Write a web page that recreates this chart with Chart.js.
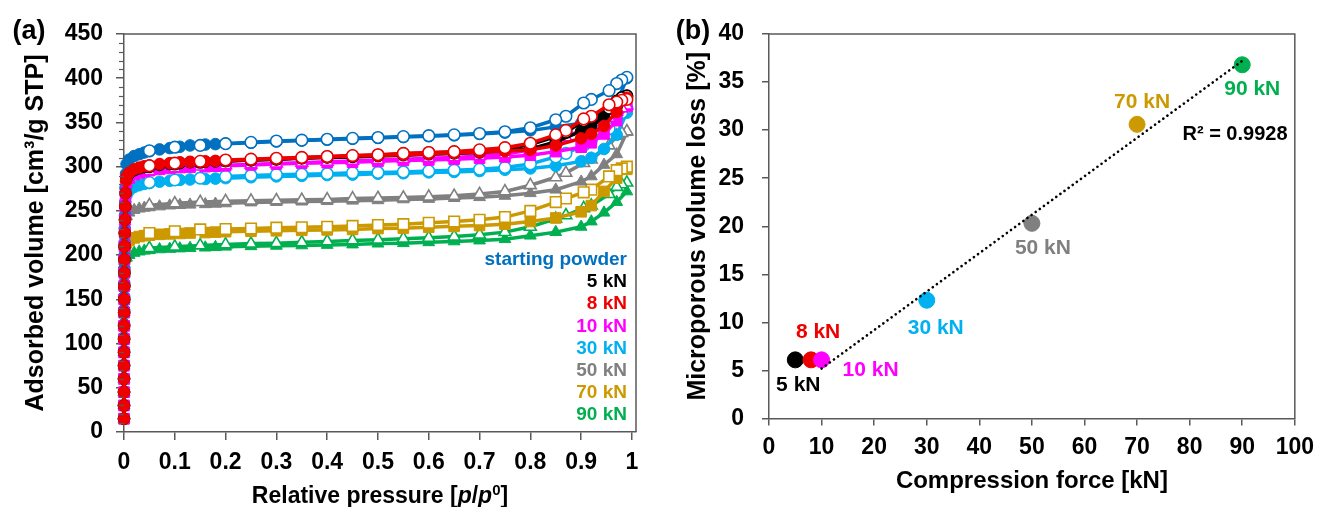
<!DOCTYPE html>
<html>
<head>
<meta charset="utf-8">
<title>Isotherms and microporous volume loss</title>
<script src="https://cdn.jsdelivr.net/npm/chart.js@4.4.1/dist/chart.umd.min.js"></script>
<style>
  html, body { margin: 0; padding: 0; background: #fff; }
  #wrap { position: relative; width: 1322px; height: 507px; overflow: hidden; }
  #boxA { position: absolute; left: 0; top: 0; width: 660px; height: 507px; }
  #boxB { position: absolute; left: 660px; top: 0; width: 662px; height: 507px; }
</style>
</head>
<body>
<div id="wrap">
  <div id="boxA"><canvas id="isoChart" width="660" height="507"></canvas></div>
  <div id="boxB"><canvas id="lossChart" width="662" height="507"></canvas></div>
</div>
<script>
// (a) N2 isotherms: adsorption (filled) and desorption (open)

const SAMPLES = ['starting powder', '5 kN', '8 kN', '10 kN', '30 kN', '50 kN', '70 kN', '90 kN'];

// relative pressures p/p0
const LOW_P = [0.00001, 0.00002, 0.00003, 0.00005, 0.00007, 0.0001, 0.00015, 0.0002, 0.0003, 0.0004,
               0.0005, 0.0007, 0.0009, 0.0012, 0.0015, 0.002, 0.0025, 0.003, 0.004];
const ADS_P = [0.005, 0.01, 0.02, 0.03, 0.04, 0.05, 0.07, 0.09, 0.11, 0.13, 0.16, 0.18, 0.2, 0.25, 0.3,
               0.35, 0.4, 0.45, 0.5, 0.55, 0.6, 0.65, 0.7, 0.75, 0.8, 0.85, 0.9, 0.92, 0.945, 0.97, 0.99];
const DES_P = [0.99, 0.98, 0.97, 0.955, 0.92, 0.905, 0.87, 0.85, 0.8, 0.75, 0.7, 0.65, 0.6, 0.55, 0.5,
               0.45, 0.4, 0.35, 0.3, 0.25, 0.2, 0.15, 0.1, 0.05];

// adsorbed volume [cm3/g STP]
const LOW_SP = [15, 30, 46, 61, 76, 92, 107, 122, 138, 153, 168, 184, 199, 214, 230, 245, 260, 276, 292];
const ADS_SP = [303, 308, 312, 314, 316, 317.5, 319.5, 321, 322.5, 324, 325, 325.5, 326, 327, 328.5, 329.5,
                330.5, 331.5, 332.5, 333.5, 334.5, 335.5, 337, 338.5, 341, 345, 349, 352, 358, 372, 400];
const DES_SP = [401, 398, 394, 386, 376, 372, 357, 353, 344, 339.5, 337.5, 336, 335, 334, 333, 332,
                331, 330, 329, 327.5, 326, 324, 322, 318];

const LOW_5 = [15, 30, 45, 60, 75, 90, 105, 120, 135, 150, 165, 180, 195, 210, 225, 240, 255, 270];
const ADS_5 = [287, 292, 296, 298, 299.5, 300.5, 302, 303, 304, 305, 305.5, 306, 306.5, 307.5, 308.5, 309.5,
               310.5, 311, 312, 313, 314, 315, 316, 318, 320, 328, 340, 346, 356, 368, 380];
const DES_5 = [380, 378, 374, 366, 356, 352, 339, 334, 325, 320, 318, 316.5, 315.5, 314.5, 313, 312,
               311, 310, 308.5, 307.5, 306.5, 305, 303, 300];

const LOW_8 = [15, 30, 45, 60, 75, 90, 105, 120, 135, 150, 165, 180, 195, 210, 225, 240, 255, 270, 284];
const ADS_8 = [289, 293, 297, 299, 300.5, 301.5, 303, 304, 305, 305.5, 306, 306.5, 307, 308, 309, 310,
               311, 312, 312.5, 313.5, 314.5, 315.5, 316.5, 317.5, 319, 324, 332, 337, 346, 362, 378];
const DES_8 = [376, 375, 373, 370, 357, 354, 341, 336, 326.5, 321.5, 319, 317, 316, 315, 313.5, 312.5,
               311.5, 310.5, 309.5, 308.5, 307.5, 306, 304, 301];

const LOW_10 = [15, 30, 45, 60, 75, 90, 105, 120, 135, 150, 165, 180, 195, 210, 225, 240, 255, 268];
const ADS_10 = [282, 287, 291, 293, 294.5, 295.5, 297, 298, 299, 299.5, 300, 300.5, 301, 302, 303, 304,
                304.5, 305, 306, 307, 307.5, 308.5, 309.5, 311, 313, 317, 322, 327, 337, 352, 368];
const DES_10 = [369, 366, 362, 355, 347, 343, 333, 328, 319, 314, 312, 310.5, 309.5, 308.5, 307.5, 306.5,
                305.5, 304.5, 303.5, 302.5, 301.5, 300, 298, 295];

const LOW_30 = [15, 30, 45, 60, 75, 90, 105, 120, 135, 150, 165, 180, 195, 210, 225, 240, 255];
const ADS_30 = [268, 273, 277, 279, 280.5, 281.5, 283, 284, 285, 285.5, 286, 286.5, 287, 288, 289, 289.5,
                290.5, 291, 292, 292.5, 293.5, 294, 295, 296.5, 298, 301, 306, 310, 320, 336, 361];
const DES_30 = [366, 361, 354, 343, 330, 324, 315, 311, 303, 299, 297, 296, 295, 294, 293.5, 293,
                292, 291.5, 291, 290, 289, 287, 285, 282];

const LOW_50 = [15, 30, 45, 60, 75, 90, 105, 120, 135, 150, 165, 180, 195, 210, 225, 238];
const ADS_50 = [244, 248, 251, 252.5, 253.5, 254, 255, 256, 256.5, 257, 257.5, 258, 258.5, 259.5, 260, 260.5,
                261, 261.5, 262, 263, 263.5, 264.5, 265.5, 267, 270, 274, 283, 289, 302, 314, 339];
const DES_50 = [340, 338, 335, 324, 308, 304, 293, 288, 279, 272, 269, 267, 266, 265, 264.5, 264,
                263, 262.5, 262, 261.5, 261, 260, 258.5, 256.5];

const LOW_70 = [15, 30, 45, 60, 75, 90, 105, 120, 135, 150, 165, 180, 195, 208];
const ADS_70 = [214, 217, 219.5, 221, 222, 222.5, 223.5, 224, 224.5, 225, 225.5, 226, 226.5, 227, 227.5, 228,
                228.5, 229, 230, 230.5, 231.5, 232.5, 233.5, 235, 238, 242, 249, 256, 272, 287, 297];
const DES_70 = [300, 298, 296, 289, 274, 271, 264, 260, 250, 243, 240, 238, 236.5, 235, 234, 233,
                232, 231.5, 231, 230, 229.5, 229, 227, 225];

const LOW_90 = [15, 30, 45, 60, 75, 90, 105, 120, 135, 150, 165, 180, 190];
const ADS_90 = [197, 200, 202.5, 204, 205, 205.5, 206.5, 207, 207.5, 208, 208.5, 209, 209.5, 210, 210.5, 211,
                211.5, 212, 213, 213.5, 214.5, 215.5, 216.5, 218, 222, 226, 232, 238, 248, 260, 272];
const DES_90 = [282, 280, 277, 269, 256, 253, 245, 241, 232, 226, 223, 221, 219.5, 218.5, 217.5, 216.5,
                215.5, 214.5, 213.5, 213, 212, 211, 209.5, 208];

const X_TICKS_A = [0, 0.1, 0.2, 0.3, 0.4, 0.5, 0.6, 0.7, 0.8, 0.9, 1];

// (b) microporous volume loss vs compression force
const FORCE = [5, 8, 10, 30, 50, 70, 90];
const LOSS = [6.1, 6.1, 6.1, 12.3, 20.3, 30.6, 36.8];
const FORCE_LABELS = ['5 kN', '8 kN', '10 kN', '30 kN', '50 kN', '70 kN', '90 kN'];
const TREND_X = [10, 90];
const TREND_Y = [5.2, 37.2];
const R2_TEXT = 'R\u00B2 = 0.9928';

// --- styling ---
const FONT = "'Liberation Sans', Arial, Helvetica, sans-serif";
const AXIS_GRAY = '#595959';
const COLORS = ['#0070C0', '#000000', '#EE0000', '#FF00FF', '#00B0F0', '#808080', '#CC9900', '#00B050'];
const MARKERS = [
  ['circle', 'circle'], ['circle', 'circle'], ['circle', 'circle'], ['rect', 'triangle'],
  ['circle', 'circle'], ['triangle', 'triangle'], ['rect', 'rect'], ['triangle', 'triangle']
];
const MARKER_R = { circle: 5.8, rect: 7.5, triangle: 6.8 };
// drawing order: red on top, then black, magenta, blue, cyan, gray, gold, green
const LAYER = [3, 1, 0, 2, 4, 5, 6, 7];

function pts(xs, ys) {
  return ys.map((y, i) => ({ x: xs[i], y }));
}

function isoDatasets() {
  const low = [LOW_SP, LOW_5, LOW_8, LOW_10, LOW_30, LOW_50, LOW_70, LOW_90];
  const ads = [ADS_SP, ADS_5, ADS_8, ADS_10, ADS_30, ADS_50, ADS_70, ADS_90];
  const des = [DES_SP, DES_5, DES_8, DES_10, DES_30, DES_50, DES_70, DES_90];
  const sets = [];
  SAMPLES.forEach((name, i) => {
    const c = COLORS[i];
    sets.push({
      label: name + ' (adsorption)',
      data: pts(LOW_P, low[i]).concat(pts(ADS_P, ads[i])),
      showLine: true, borderColor: c, borderWidth: 3.5, clip: 10,
      pointStyle: MARKERS[i][0], pointRadius: MARKER_R[MARKERS[i][0]],
      pointBackgroundColor: c, pointBorderColor: c, pointBorderWidth: 1,
      order: LAYER[i] * 2 + 1
    });
    sets.push({
      label: name + ' (desorption)',
      data: pts(DES_P, des[i]),
      showLine: true, borderColor: c, borderWidth: 3.5, clip: 10,
      pointStyle: MARKERS[i][1], pointRadius: MARKER_R[MARKERS[i][1]],
      pointBackgroundColor: '#ffffff', pointBorderColor: c, pointBorderWidth: 1.6,
      order: LAYER[i] * 2
    });
  });
  return sets;
}

function drawFrame(chart) {
  const { ctx, chartArea: a } = chart;
  ctx.save();
  ctx.strokeStyle = AXIS_GRAY;
  ctx.lineWidth = 1.5;
  ctx.beginPath();
  ctx.moveTo(a.left, a.top);
  ctx.lineTo(a.right, a.top);
  ctx.lineTo(a.right, a.bottom);
  ctx.stroke();
  ctx.restore();
}

function label(ctx, str, x, y, size, color, align) {
  ctx.save();
  ctx.font = 'bold ' + size + 'px ' + FONT;
  ctx.fillStyle = color;
  ctx.textAlign = align || 'center';
  ctx.textBaseline = 'middle';
  ctx.fillText(str, x, y);
  ctx.restore();
}

const isoDecor = {
  id: 'isoDecor',
  afterDraw(chart) {
    const { ctx, chartArea: a, scales } = chart;
    drawFrame(chart);

    // minor ticks on the y axis every 10
    ctx.save();
    ctx.strokeStyle = AXIS_GRAY;
    ctx.lineWidth = 1.2;
    for (let v = 10; v < scales.y.max; v += 10) {
      if (v % 50 === 0) continue;
      const py = Math.round(scales.y.getPixelForValue(v)) + 0.5;
      ctx.beginPath();
      ctx.moveTo(a.left - 5, py);
      ctx.lineTo(a.left, py);
      ctx.stroke();
    }
    ctx.restore();

    // sample names, right aligned inside the plot
    SAMPLES.forEach((name, i) => {
      label(ctx, name, a.right - 9, 260 + i * 22.1, 19, COLORS[i], 'right');
    });

    // x title with italic p and superscript 0
    const parts = [
      { t: 'Relative pressure [', f: 'bold 23px ' + FONT, dy: 0 },
      { t: 'p', f: 'italic bold 23px ' + FONT, dy: 0 },
      { t: '/', f: 'bold 23px ' + FONT, dy: 0 },
      { t: 'p', f: 'italic bold 23px ' + FONT, dy: 0 },
      { t: '0', f: 'bold 15px ' + FONT, dy: -8 },
      { t: ']', f: 'bold 23px ' + FONT, dy: 0 }
    ];
    ctx.save();
    ctx.textBaseline = 'alphabetic';
    ctx.fillStyle = '#000';
    let total = 0;
    parts.forEach(p => { ctx.font = p.f; p.w = ctx.measureText(p.t).width; total += p.w; });
    let x = (a.left + a.right) / 2 - total / 2;
    const base = 503;
    parts.forEach(p => { ctx.font = p.f; ctx.fillText(p.t, x, base + p.dy); x += p.w; });
    ctx.restore();

    label(ctx, '(a)', 29, 32, 27, '#000');
  }
};

const lossDecor = {
  id: 'lossDecor',
  afterDraw(chart) {
    const { ctx, scales } = chart;
    drawFrame(chart);
    const offsets = [[3, 25], [7, -28], [49, 10], [9, 28], [11, 25], [5, -22], [10, 24]];
    FORCE_LABELS.forEach((t, i) => {
      const px = scales.x.getPixelForValue(FORCE[i]) + offsets[i][0];
      const py = scales.y.getPixelForValue(LOSS[i]) + offsets[i][1];
      label(ctx, t, px, py, 21, COLORS[i + 1]);
    });
    label(ctx, R2_TEXT, 575, 134, 20, '#000');
    label(ctx, '(b)', 33, 32, 27, '#000');
  }
};

const tickFont = { family: FONT, size: 23, weight: 'bold' };

new Chart(document.getElementById('isoChart'), {
  type: 'scatter',
  data: { datasets: isoDatasets() },
  options: {
    responsive: false,
    animation: false,
    layout: { padding: { left: 0, right: 24, top: 34, bottom: 0 } },
    plugins: { legend: { display: false }, tooltip: { enabled: false } },
    scales: {
      x: {
        type: 'linear', min: 0, max: 1.008,
        afterBuildTicks: s => { s.ticks = X_TICKS_A.map(v => ({ value: v })); },
        afterFit: s => { s.height = 75; },
        ticks: { color: '#000', font: tickFont, padding: 9, maxRotation: 0, autoSkip: false, callback: v => String(v) },
        grid: { drawOnChartArea: false, tickLength: 8, color: AXIS_GRAY, lineWidth: 1.5 },
        border: { color: AXIS_GRAY, width: 1.5 }
      },
      y: {
        type: 'linear', min: 0, max: 450,
        afterFit: s => { s.width = 124; },
        ticks: { stepSize: 50, color: '#000', font: tickFont, padding: 13 },
        grid: { drawOnChartArea: false, tickLength: 8, color: AXIS_GRAY, lineWidth: 1.5 },
        border: { color: AXIS_GRAY, width: 1.5 },
        title: {
          display: true, text: 'Adsorbed volume [cm\u00B3/g STP]', color: '#000',
          font: { family: FONT, size: 25, weight: 'bold' }, padding: { top: 21, bottom: 0 }
        }
      }
    }
  },
  plugins: [isoDecor]
});

new Chart(document.getElementById('lossChart'), {
  type: 'scatter',
  data: {
    datasets: [
      {
        label: 'Linear fit',
        data: pts(TREND_X, TREND_Y),
        showLine: true, borderColor: '#000', borderWidth: 2.6,
        borderDash: [0.1, 5], borderCapStyle: 'round',
        pointRadius: 0, order: 0
      },
      {
        label: 'Microporous volume loss',
        data: pts(FORCE, LOSS),
        pointRadius: 8,
        pointBackgroundColor: COLORS.slice(1),
        pointBorderColor: COLORS.slice(1),
        order: 1
      }
    ]
  },
  options: {
    responsive: false,
    animation: false,
    layout: { padding: { left: 0, right: 24.5, top: 34, bottom: 0 } },
    plugins: { legend: { display: false }, tooltip: { enabled: false } },
    scales: {
      x: {
        type: 'linear', min: 0, max: 100,
        afterFit: s => { s.height = 88.5; },
        ticks: { stepSize: 10, color: '#000', font: tickFont, padding: 8, maxRotation: 0 },
        grid: { drawOnChartArea: false, tickLength: 7, color: AXIS_GRAY, lineWidth: 1.5 },
        border: { color: AXIS_GRAY, width: 1.5 },
        title: {
          display: true, text: 'Compression force [kN]', color: '#000',
          font: { family: FONT, size: 24, weight: 'bold' }, padding: { top: 0, bottom: 11 }
        }
      },
      y: {
        type: 'linear', min: 0, max: 40,
        afterFit: s => { s.width = 109; },
        ticks: { stepSize: 5, color: '#000', font: tickFont, padding: 18 },
        grid: { drawOnChartArea: false, tickLength: 7, color: AXIS_GRAY, lineWidth: 1.5 },
        border: { color: AXIS_GRAY, width: 1.5 },
        title: {
          display: true, text: 'Microporous volume loss [%]', color: '#000',
          font: { family: FONT, size: 25, weight: 'bold' }, padding: { top: 23, bottom: 0 }
        }
      }
    }
  },
  plugins: [lossDecor]
});
</script>
</body>
</html>
